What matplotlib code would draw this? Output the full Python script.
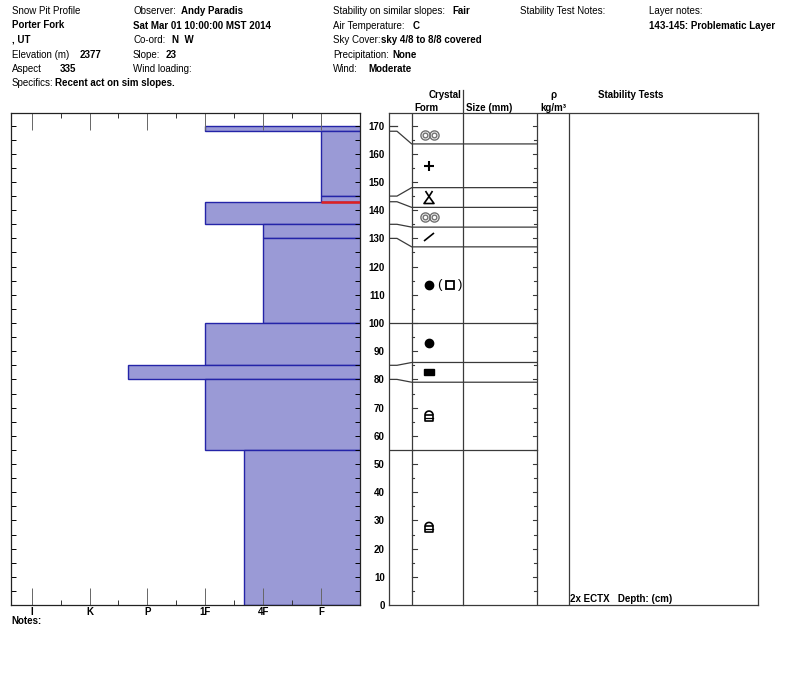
import numpy as np
import matplotlib
matplotlib.use("Agg")
import matplotlib.pyplot as plt
from matplotlib.patches import Rectangle

plt.rcParams['font.family'] = ['Liberation Sans', 'DejaVu Sans']
plt.rcParams['font.size'] = 7

# Data ------------------------------------------------------------------------
layer_top = [170, 168, 145, 143, 135, 130, 100, 85, 80, 55]
layer_bottom = [168, 145, 143, 135, 130, 100, 85, 80, 55, 0]
hardness = ['1F', 'F', 'F', '1F', '4F', '4F', '1F', 'P+', '1F', '4F+']
grain_form = ['MF', 'PP', 'SH', 'MF', 'DF', 'RGFC', 'RG', 'IF', 'FCxr', 'FCxr']

# where each boundary is drawn in the crystal column (spread out for symbols)
boundary_real = [170, 168, 145, 143, 135, 130, 100, 85, 80, 55, 0]
boundary_shown = [170, 163.5, 148, 141, 134, 127, 100, 86, 79, 55, 0]

problem_layer = (143, 145)

hard_names = ['I', 'K', 'P', '1F', '4F', 'F']
hard_values = [6, 5, 4, 3, 2, 1]

header_left = [("Snow Pit Profile", False), ("Porter Fork", True), (", UT", True)]
header_obs = [("Sat Mar 01 10:00:00 MST 2014", True)]
layer_notes = "143-145: Problematic Layer"
test_text = "2x ECTX   Depth: (cm)"

# Layout (pixels) -------------------------------------------------------------
W, H = 800, 676
PX_CM = 2.82
YTOP = (605 - 113) / PX_CM
FILL = '#9a9ad6'
EDGE = '#2424a8'
LINE = '#3a3a3a'


def hval(h):
    base = h.rstrip('+-')
    v = hard_values[hard_names.index(base)]
    if h.endswith('+'):
        v += 1 / 3
    elif h.endswith('-'):
        v -= 1 / 3
    return v


def ftext(x, y, s, bold=False, **kw):
    fig.text(x / W, 1 - y / H, s, fontweight='bold' if bold else 'normal',
             va='center', **kw)


fig = plt.figure(figsize=(W / 100, H / 100), dpi=100)

# Header ----------------------------------------------------------------------
for i, (s, b) in enumerate(header_left):
    ftext(12, 11 + 14.5 * i, s, b)
ftext(12, 54.5, "Elevation (m)")
ftext(80, 54.5, "2377", True)
ftext(12, 69, "Aspect")
ftext(60, 69, "335", True)
ftext(12, 83.5, "Specifics:")
ftext(55, 83.5, "Recent act on sim slopes.", True)

ftext(133, 11, "Observer:")
ftext(181, 11, "Andy Paradis", True)
ftext(133, 26, header_obs[0][0], True)
ftext(133, 40, "Co-ord:")
ftext(172, 40, "N  W", True)
ftext(133, 54.5, "Slope:")
ftext(166, 54.5, "23", True)
ftext(133, 69, "Wind loading:")

ftext(333, 11, "Stability on similar slopes:")
ftext(452, 11, "Fair", True)
ftext(333, 26, "Air Temperature:")
ftext(413, 26, "C", True)
ftext(333, 40, "Sky Cover:")
ftext(381, 40, "sky 4/8 to 8/8 covered", True)
ftext(333, 54.5, "Precipitation:")
ftext(392, 54.5, "None", True)
ftext(333, 69, "Wind:")
ftext(368, 69, "Moderate", True)

ftext(520, 11, "Stability Test Notes:")
ftext(649, 11, "Layer notes:")
ftext(649, 26, layer_notes, True)

ftext(461, 95, "Crystal", True, ha='right')
ftext(414, 108, "Form", True)
ftext(466, 108, "Size (mm)", True)
ftext(553, 95, "ρ", True, ha='center')
ftext(553, 108, "kg/m³", True, ha='center')
ftext(598, 95, "Stability Tests", True)
ftext(11, 621, "Notes:", True)

# Hardness profile ------------------------------------------------------------
ax = fig.add_axes([11 / W, 71 / H, 349 / W, 492 / H])
tops = np.array(layer_top)
bots = np.array(layer_bottom)
hv = np.array([hval(h) for h in hardness])
ax.barh(bots, hv, height=tops - bots, left=0, align='edge',
        color=FILL, edgecolor=EDGE, linewidth=1)
ih = layer_bottom.index(problem_layer[0])
ax.hlines(problem_layer[0], hv[ih], 0, color='#e02020', lw=1.8, zorder=3)

ax.set_xlim(6 + 20.7 / 57.9, 1 - 39 / 57.9)
ax.set_ylim(0, YTOP)
ax.set_xticks(hard_values)
ax.set_xticklabels(hard_names, fontweight='bold')
ax.set_xticks(np.array(hard_values[:-1]) - 0.5, minor=True)
ax.tick_params(axis='x', which='major', direction='in', top=True,
               length=12, width=0.7, color='#666666', pad=1.5)
ax.tick_params(axis='x', which='minor', direction='in', top=True,
               length=3.6, width=0.7, color='#333333')
ax.set_yticks(np.arange(10, 171, 10))
ax.set_yticks(np.arange(5, 171, 10), minor=True)
ax.tick_params(axis='y', which='both', direction='in', right=True,
               length=3.3, width=0.7, labelleft=False)
for sp in ax.spines.values():
    sp.set_color('#222222')
    sp.set_linewidth(0.9)

# Crystal / density / tests columns -----------------------------------------
ax2 = fig.add_axes([389 / W, 71 / H, (757.7 - 389) / W, 492 / H])
ax2.set_xlim(389, 757.7)
ax2.set_ylim(0, YTOP)
ax2.set_xticks([])
ax2.set_yticks(np.arange(0, 171, 10))
ax2.set_yticklabels([str(v) for v in range(0, 171, 10)], fontweight='bold')
ax2.tick_params(axis='y', length=0, pad=3)
for sp in ax2.spines.values():
    sp.set_color(LINE)
    sp.set_linewidth(0.9)

for xc in [411.7, 536.8, 569.3]:
    ax2.axvline(xc, color=LINE, lw=0.9)
ax2.axvline(463.2, ymin=0, ymax=(605 - 90) / 492, color=LINE, lw=0.9,
            clip_on=False)

# depth ticks on the form and density columns
for d in np.arange(5, 171, 5):
    ln = 5 if d % 10 == 0 else 2.5
    ax2.plot([411.7, 411.7 + ln], [d, d], color=LINE, lw=0.8)
    ln = 4.3 if d % 10 == 0 else 2.7
    ax2.plot([536.8 - ln, 536.8], [d, d], color=LINE, lw=0.8)

# layer boundaries with connectors
for r, s in zip(boundary_real, boundary_shown):
    if r == 0:
        continue
    if r == max(boundary_real):
        ax2.plot([389, 397], [r, r], color=LINE, lw=0.9)
        continue
    ax2.plot([389, 397, 411.7, 536.8], [r, r, s, s], color=LINE, lw=0.9)


def oy(dy):
    return dy / PX_CM


def draw_form(code, yc, xc=429):
    k = dict(color='black', lw=1.2, solid_capstyle='butt')
    if code == 'MF':
        for dx in (-4.5, 4.5):
            ax2.plot(xc + dx, yc, 'o', ms=6.6, mfc='none', mec='#707070', mew=1.0)
            ax2.plot(xc + dx, yc, 'o', ms=3.4, mfc='none', mec='#707070', mew=1.0)
    elif code == 'PP':
        ax2.plot(xc, yc, '+', ms=7.5, mew=1.5, color='black')
    elif code == 'SH':
        ax2.plot([xc - 3.5, xc, xc + 3.5], [yc + oy(6.5), yc + oy(1), yc + oy(6.5)], **k)
        ax2.plot([xc, xc - 5, xc + 5, xc],
                 [yc + oy(1), yc - oy(6), yc - oy(6), yc + oy(1)], **k)
    elif code == 'DF':
        ax2.plot([xc - 5, xc + 5], [yc - oy(4), yc + oy(4)], **k)
    elif code == 'RG':
        ax2.plot(xc, yc, 'o', ms=6, color='black')
    elif code == 'RGFC':
        ax2.plot(xc, yc, 'o', ms=6, color='black')
        ax2.text(439, yc, '(', ha='center', va='center', fontsize=9.5)
        ax2.plot(450, yc, 's', ms=6, mfc='none', mec='black', mew=1.3)
        ax2.text(460, yc, ')', ha='center', va='center', fontsize=9.5)
    elif code == 'IF':
        ax2.add_patch(Rectangle((xc - 5, yc - oy(3)), 10, oy(6), color='black'))
    elif code == 'FCxr':
        t = np.linspace(0, np.pi, 30)
        ax2.plot(xc + 4 * np.cos(t), yc + oy(1 + 4 * np.sin(t)), **k)
        ax2.plot([xc - 4, xc - 4, xc + 4, xc + 4, xc - 4],
                 [yc + oy(1), yc - oy(5), yc - oy(5), yc + oy(1), yc + oy(1)], **k)
        ax2.plot([xc - 4, xc + 4], [yc - oy(2), yc - oy(2)], color='black', lw=0.9)


for i, code in enumerate(grain_form):
    yc = (boundary_shown[i] + boundary_shown[i + 1]) / 2
    draw_form(code, yc)

ax2.text(570.5, oy(605 - 599.3), test_text, fontweight='bold', va='center')

fig.savefig("out.png", dpi=100)
